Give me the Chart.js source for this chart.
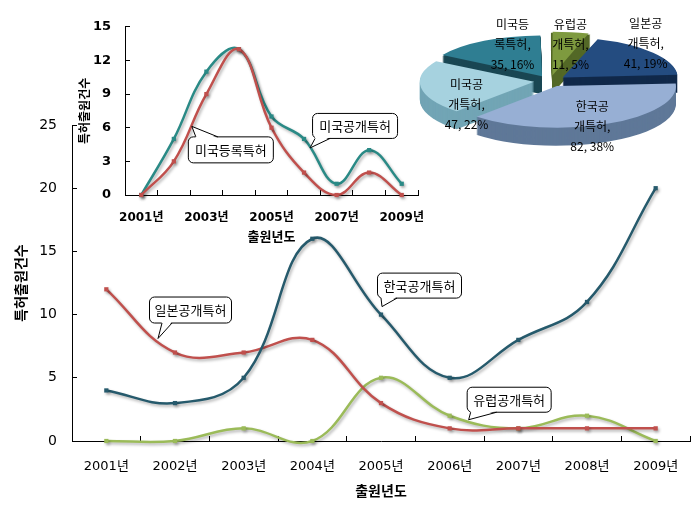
<!DOCTYPE html>
<html>
<head>
<meta charset="utf-8">
<script src="https://cdn.jsdelivr.net/npm/chart.js@4"></script>
<style>
html, body { margin: 0; padding: 0; background: #fff; }
#wrap { position: relative; width: 694px; height: 507px; overflow: hidden; }
canvas { position: absolute; }
#main { left: 0; top: 0; }
#inset { left: 60px; top: 0; }
#pie { left: 410px; top: 0; }
</style>
</head>
<body>
<div id="wrap">
<canvas id="main" width="694" height="507"></canvas>
<canvas id="inset" width="366" height="250"></canvas>
<canvas id="pie" width="284" height="250"></canvas>
</div>
<script>
// data
const years = ['2001년', '2002년', '2003년', '2004년', '2005년', '2006년', '2007년', '2008년', '2009년'];
const korea = [4, 3, 5, 16, 10, 5, 8, 11, 20];
const japan = [12, 7, 7, 8, 3, 1, 1, 1, 1];
const europe = [0, 0, 1, 0, 5, 2, 1, 2, 0];
const usPub = [0, 5, 11, 13, 7, 5, 1, 4, 1];
const usReg = [0, 3, 9, 13, 6, 2, 0, 2, 0];
const pieNames = ['한국공개특허', '미국공개특허', '미국등록특허', '유럽공개특허', '일본공개특허'];
const pieValues = [82, 47, 35, 11, 41];

Chart.defaults.font.family = "'DejaVu Sans', 'Noto Sans CJK KR', sans-serif";
Chart.defaults.color = '#000';

const shadow = {
	id: 'shadow',
	beforeDatasetDraw(chart) {
		const c = chart.ctx;
		c.save();
		c.shadowColor = 'rgba(0,0,0,0.3)';
		c.shadowBlur = 3;
		c.shadowOffsetX = 1.5;
		c.shadowOffsetY = 2;
	},
	afterDatasetDraw(chart) { chart.ctx.restore(); }
};

const callout = {
	id: 'callout',
	afterDraw(chart, args, opts) {
		const ctx = chart.ctx;
		opts.items.forEach(c => {
			const pt = chart.getDatasetMeta(c.ds).data[c.i];
			const tx = pt.x + c.tip[0], ty = pt.y + c.tip[1];
			const bx = pt.x + c.box[0], by = pt.y + c.box[1], bw = c.box[2], bh = c.box[3];
			ctx.save();
			ctx.lineWidth = 1;
			ctx.strokeStyle = '#000';
			ctx.fillStyle = '#fff';
			ctx.beginPath();
			ctx.roundRect(bx + 0.5, by + 0.5, bw, bh, 5);
			ctx.fill();
			ctx.stroke();
			const ey = c.up ? by + 0.5 : by + bh + 0.5;
			const inn = c.up ? 1.5 : -1.5;
			const b1 = bx + c.base[0], b2 = bx + c.base[1];
			ctx.beginPath();
			ctx.moveTo(b1, ey + inn);
			ctx.lineTo(tx, ty);
			ctx.lineTo(b2, ey + inn);
			ctx.closePath();
			ctx.fill();
			ctx.beginPath();
			ctx.moveTo(b1, ey);
			ctx.lineTo(tx, ty);
			ctx.lineTo(b2, ey);
			ctx.stroke();
			ctx.fillStyle = '#000';
			ctx.font = '13px "Noto Sans CJK KR", sans-serif';
			ctx.textAlign = 'center';
			ctx.textBaseline = 'middle';
			ctx.fillText(c.text, bx + bw / 2 + 0.5, by + bh / 2 + 1);
			ctx.restore();
		});
	}
};

function lineSet(label, data, color, order) {
	return {
		label: label,
		data: data,
		borderColor: color,
		backgroundColor: color,
		borderWidth: 2.5,
		pointStyle: 'rect',
		pointRadius: 3,
		pointBorderWidth: 0,
		tension: 0.4,
		clip: false,
		order: order
	};
}

new Chart(document.getElementById('main'), {
	type: 'line',
	data: {
		labels: years,
		datasets: [
			lineSet('한국공개특허', korea, '#265A6C', 0),
			lineSet('일본공개특허', japan, '#C0504D', 1),
			lineSet('유럽공개특허', europe, '#9BBB59', 2)
		]
	},
	options: {
		responsive: false,
		animation: false,
		elements: { line: { capBezierPoints: false } },
		layout: { padding: { top: 125, left: 10, right: 4, bottom: 0 } },
		plugins: {
			legend: { display: false },
			tooltip: { enabled: false },
			callout: {
				items: [
					{ text: '한국공개특허', ds: 0, i: 4, box: [-4, -42, 84, 25], tip: [1, -8], base: [4, 20] },
					{ text: '일본공개특허', ds: 1, i: 1, box: [-26, -56, 82, 26], tip: [-17, -14], base: [13, 23] },
					{ text: '유럽공개특허', ds: 2, i: 5, box: [17, -29, 84, 25], tip: [19, 4], base: [4, 30] }
				]
			}
		},
		scales: {
			x: {
				offset: true,
				grid: { offset: true, drawOnChartArea: false, color: '#000', tickLength: -5 },
				border: { color: '#000', width: 1 },
				ticks: { padding: 23, font: { size: 13 }, autoSkip: false, maxRotation: 0 },
				title: { display: true, text: '출원년도', font: { size: 14, weight: 'bold' }, padding: { top: 4, bottom: 6.6 } },
				afterFit(s) { s.height = 66; s.paddingLeft = 0; s.paddingRight = 0; }
			},
			y: {
				min: 0,
				max: 25,
				ticks: { stepSize: 5, padding: 20, font: { size: 14 } },
				grid: { drawOnChartArea: false, color: '#000', tickLength: -5 },
				border: { color: '#000', width: 1 },
				title: { display: true, text: '특허출원건수', font: { size: 14, weight: 'bold' }, padding: { top: 4, bottom: 4 } },
				afterFit(s) { s.width = 62; }
			}
		}
	},
	plugins: [shadow, callout]
});

new Chart(document.getElementById('inset'), {
	type: 'line',
	data: {
		labels: years,
		datasets: [
			lineSet('미국공개특허', usPub, '#2A8A86', 1),
			lineSet('미국등록특허', usReg, '#C0504D', 0)
		]
	},
	options: {
		responsive: false,
		animation: false,
		elements: { line: { capBezierPoints: false } },
		layout: { padding: { top: 12, left: 15, right: 8, bottom: 0 } },
		plugins: {
			legend: { display: false },
			tooltip: { enabled: false },
			callout: {
				items: [
					{ text: '미국공개특허', ds: 0, i: 5, box: [8, -26, 85, 25], tip: [6, 9], base: [3, 18] },
					{ text: '미국등록특허', ds: 1, i: 1, box: [14, -25, 85, 26], tip: [18, -35], base: [8, 30], up: true }
				]
			}
		},
		scales: {
			x: {
				offset: true,
				grid: { offset: true, drawOnChartArea: false, color: '#000', tickLength: -5 },
				border: { color: '#000', width: 1 },
				ticks: {
					padding: 21,
					font: { size: 12, weight: 'bold' },
					autoSkip: false,
					maxRotation: 0,
					callback(v, i) { return i % 2 ? '' : this.getLabelForValue(v); }
				},
				title: { display: true, text: '출원년도', font: { size: 13, weight: 'bold' }, padding: { top: 4, bottom: 4.2 } },
				afterFit(s) { s.height = 55; s.paddingLeft = 0; s.paddingRight = 0; }
			},
			y: {
				min: 0,
				max: 15,
				ticks: { stepSize: 3, padding: 19, font: { size: 13, weight: 'bold' } },
				grid: { drawOnChartArea: false, color: '#000', tickLength: -5 },
				border: { color: '#000', width: 1 },
				title: { display: true, text: '특허출원건수', font: { size: 12, weight: 'bold' }, padding: { top: 4, bottom: 4 } },
				afterFit(s) { s.width = 50; }
			}
		}
	},
	plugins: [shadow, callout]
});

// squashed pie with side walls, to look like the 3-D pie of the figure
const pie3d = {
	id: 'pie3d',
	beforeDatasetsDraw(chart, args, o) {
		const ctx = chart.ctx;
		const arcs = chart.getDatasetMeta(0).data;
		const sides = chart.data.datasets[0].sideColor;
		const cx = arcs[0].x, cy = arcs[0].y;
		ctx.save();
		ctx.translate(o.cx, o.cy);
		ctx.scale(1, o.squash);
		ctx.translate(-cx, -cy);
		for (let d = o.depth; d > 0; d -= 1) {
			arcs.forEach((a, i) => {
				const mid = (a.startAngle + a.endAngle) / 2;
				const off = (a.options.offset || 0) / 4;
				const circ = a.endAngle - a.startAngle;
				const r = a.outerRadius + off * (1 - Math.sin(Math.min(Math.PI, circ)));
				const ax = a.x + Math.cos(mid) * off;
				const ay = a.y + Math.sin(mid) * off + d / o.squash;
				ctx.beginPath();
				ctx.moveTo(ax, ay);
				ctx.arc(ax, ay, r, a.startAngle, a.endAngle);
				ctx.closePath();
				ctx.fillStyle = sides[i];
				ctx.fill();
			});
		}
	},
	afterDatasetsDraw(chart, args, o) {
		const ctx = chart.ctx;
		ctx.restore();
		const arcs = chart.getDatasetMeta(0).data;
		const vals = chart.data.datasets[0].data;
		const total = vals.reduce((s, v) => s + v, 0);
		ctx.save();
		ctx.fillStyle = '#000';
		ctx.font = '12px "Noto Sans CJK KR", sans-serif';
		ctx.textAlign = 'center';
		ctx.textBaseline = 'middle';
		arcs.forEach((a, i) => {
			const mid = (a.startAngle + a.endAngle) / 2;
			const rr = a.outerRadius * 0.75 + 12;
			const x = o.cx + Math.cos(mid) * rr + o.labelShift[i][0];
			const y = o.cy + Math.sin(mid) * rr * o.squash + o.labelShift[i][1];
			const name = chart.data.labels[i];
			const lines = [name.slice(0, 3), name.slice(3) + ',', vals[i] + ', ' + Math.round(vals[i] / total * 100) + '%'];
			lines.forEach((t, k) => ctx.fillText(t, x, y + (k - 1) * 20));
		});
		ctx.restore();
	}
};

new Chart(document.getElementById('pie'), {
	type: 'pie',
	data: {
		labels: pieNames,
		datasets: [{
			data: pieValues,
			backgroundColor: ['#97AFD4', '#A6D2DF', '#2F7E92', '#7E9A3F', '#244C80'],
			sideColor: ['#5F7898', '#72A5B5', '#1A4753', '#536826', '#11294A'],
			borderWidth: 0,
			offset: 64
		}]
	},
	options: {
		responsive: false,
		animation: false,
		radius: 114,
		rotation: 86,
		layout: { padding: 0 },
		plugins: {
			legend: { display: false },
			tooltip: { enabled: false },
			pie3d: {
				cx: 140,
				cy: 81,
				squash: 0.35,
				depth: 18,
				labelShift: [[0, 15], [13, 19], [11, -7], [6, -3], [19, -16]]
			}
		}
	},
	plugins: [pie3d]
});
</script>
</body>
</html>
